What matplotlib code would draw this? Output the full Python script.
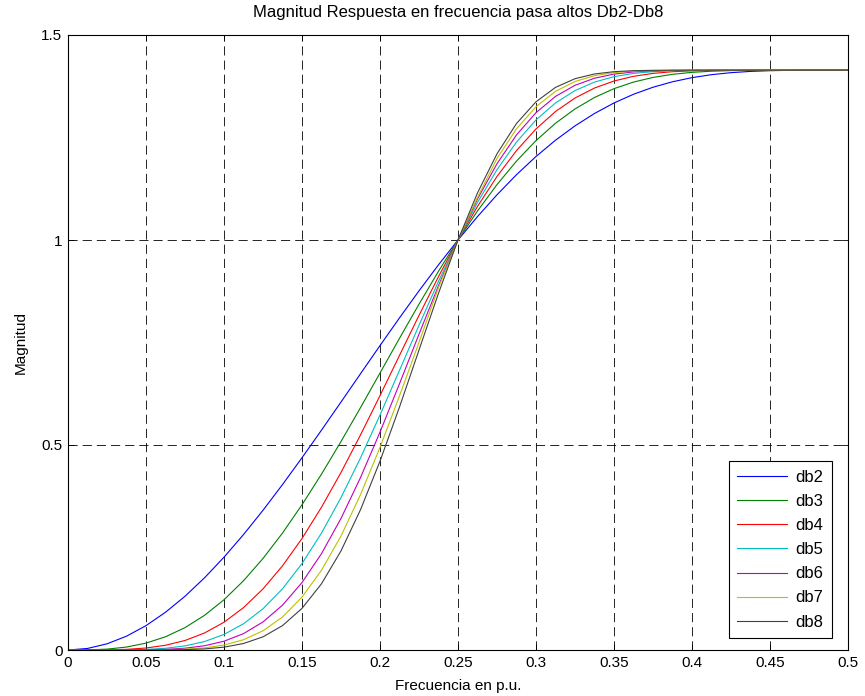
import matplotlib
matplotlib.use('Agg')
import matplotlib.pyplot as plt

# --- fonts ---
plt.rcParams['font.family'] = ['Liberation Sans', 'DejaVu Sans']

freq = [0.0, 0.0125, 0.025, 0.0375, 0.05, 0.0625, 0.075, 0.0875, 0.1, 0.1125,
        0.125, 0.1375, 0.15, 0.1625, 0.175, 0.1875, 0.2, 0.2125, 0.225, 0.2375,
        0.25, 0.2625, 0.275, 0.2875, 0.3, 0.3125, 0.325, 0.3375, 0.35, 0.3625,
        0.375, 0.3875, 0.4, 0.4125, 0.425, 0.4375, 0.45, 0.4625, 0.475, 0.4875, 0.5]

db2 = [0.0, 0.00377, 0.01505, 0.03368, 0.05945, 0.09204, 0.13104, 0.17599, 0.22634, 0.28148,
       0.34076, 0.40347, 0.46889, 0.53626, 0.60481, 0.67379, 0.74245, 0.81006, 0.87594, 0.93944,
       1.0, 1.05709, 1.11028, 1.15923, 1.20365, 1.24339, 1.27836, 1.30860, 1.33422, 1.35544,
       1.37255, 1.38592, 1.39598, 1.40322, 1.40813, 1.41121, 1.41296, 1.41381, 1.41414, 1.41421, 1.41421]
db3 = [0.0, 0.00027, 0.00215, 0.00719, 0.01681, 0.03226, 0.05457, 0.08451, 0.12254, 0.16883,
       0.22322, 0.28525, 0.35417, 0.42897, 0.50843, 0.59114, 0.67559, 0.76022, 0.84347, 0.92385,
       1.0, 1.07075, 1.13515, 1.19250, 1.24241, 1.28474, 1.31966, 1.34758, 1.36915, 1.38515,
       1.39649, 1.40410, 1.40890, 1.41169, 1.41316, 1.41385, 1.41411, 1.41419, 1.41421, 1.41421, 1.41421]
db4 = [0.0, 0.00002, 0.00032, 0.00157, 0.00486, 0.01157, 0.02324, 0.04147, 0.06775, 0.10330,
       0.14901, 0.20526, 0.27191, 0.34825, 0.43303, 0.52448, 0.62046, 0.71852, 0.81612, 0.91073,
       1.0, 1.08193, 1.15497, 1.21809, 1.27084, 1.31337, 1.34629, 1.37067, 1.38783, 1.39924,
       1.40634, 1.41044, 1.41259, 1.41361, 1.41402, 1.41417, 1.41420, 1.41421, 1.41421, 1.41421, 1.41421]
db5 = [0.0, 0.0, 0.00005, 0.00035, 0.00143, 0.00421, 0.01003, 0.02062, 0.03792, 0.06396,
       0.10060, 0.14927, 0.21081, 0.28525, 0.37175, 0.46855, 0.57307, 0.68209, 0.79203, 0.89916,
       1.0, 1.09156, 1.17161, 1.23885, 1.29290, 1.33434, 1.36448, 1.38514, 1.39842, 1.40631,
       1.41064, 1.41277, 1.41370, 1.41406, 1.41418, 1.41421, 1.41421, 1.41421, 1.41421, 1.41421, 1.41421]
db6 = [0.0, 0.0, 0.00001, 0.00008, 0.00042, 0.00154, 0.00437, 0.01033, 0.02140, 0.03992,
       0.06842, 0.10932, 0.16452, 0.23507, 0.32088, 0.42056, 0.53138, 0.64949, 0.77027, 0.88870,
       1.0, 1.10010, 1.18604, 1.25625, 1.31058, 1.35023, 1.37733, 1.39454, 1.40461, 1.40998,
       1.41256, 1.41365, 1.41405, 1.41417, 1.41421, 1.41421, 1.41421, 1.41421, 1.41421, 1.41421, 1.41421]
db7 = [0.0, 0.0, 0.0, 0.00002, 0.00013, 0.00057, 0.00191, 0.00521, 0.01215, 0.02505,
       0.04679, 0.08047, 0.12901, 0.19457, 0.27808, 0.37879, 0.49416, 0.61985, 0.75026, 0.88405,
       1.0, 1.10384, 1.19880, 1.27113, 1.32507, 1.36254, 1.38661, 1.40077, 1.40832, 1.41192,
       1.41344, 1.41399, 1.41416, 1.41420, 1.41421, 1.41421, 1.41421, 1.41421, 1.41421, 1.41421, 1.41421]
db8 = [0.0, 0.0, 0.0, 0.0, 0.00003, 0.00021, 0.00084, 0.00264, 0.00692, 0.01579,
       0.03213, 0.05947, 0.10153, 0.16158, 0.24171, 0.34209, 0.46057, 0.59261, 0.73167, 0.87005,
       1.0, 1.11490, 1.21023, 1.28406, 1.33712, 1.37222, 1.39341, 1.40495, 1.41056, 1.41296,
       1.41385, 1.41413, 1.41420, 1.41421, 1.41421, 1.41421, 1.41421, 1.41421, 1.41421, 1.41421, 1.41421]

series = [db2, db3, db4, db5, db6, db7, db8]
names = ['db2', 'db3', 'db4', 'db5', 'db6', 'db7', 'db8']
colors = [(0, 0, 1), (0, 0.5, 0), (1, 0, 0), (0, 0.75, 0.75),
          (0.75, 0, 0.75), (0.75, 0.75, 0), (0.25, 0.25, 0.25)]

xticks = [0, 0.05, 0.1, 0.15, 0.2, 0.25, 0.3, 0.35, 0.4, 0.45, 0.5]
xticklabels = ['0', '0.05', '0.1', '0.15', '0.2', '0.25', '0.3', '0.35', '0.4', '0.45', '0.5']
yticks = [0, 0.5, 1, 1.5]
yticklabels = ['0', '0.5', '1', '1.5']

tick_fontsize = 11
label_fontsize = 11
title_fontsize = 12
legend_fontsize = 12

# --- figure ---
fig = plt.figure(figsize=(8.65, 6.96), dpi=100)
ax = fig.add_axes([68/865, 1 - 650/696, 780/865, 615/696])

for vals, name, col in zip(series, names, colors):
    ax.plot(freq, vals, color=col, linewidth=0.8, label=name)

ax.set_xlim(0, 0.5)
ax.set_ylim(0, 1.5)
ax.set_xticks(xticks)
ax.set_xticklabels(xticklabels)
ax.set_yticks(yticks)
ax.set_yticklabels(yticklabels)

ax.grid(True, color='black', linestyle=(0, (11, 6)), linewidth=0.6)
ax.tick_params(direction='in', top=True, right=True, length=4, width=0.6,
               labelsize=tick_fontsize, pad=4)
for sp in ax.spines.values():
    sp.set_linewidth(0.8)

ax.set_title('Magnitud Respuesta en frecuencia pasa altos Db2-Db8', fontsize=title_fontsize, pad=13)
ax.set_xlabel('Frecuencia en p.u.', fontsize=label_fontsize, labelpad=7)
ax.set_ylabel('Magnitud', fontsize=label_fontsize, labelpad=10)

leg = ax.legend(loc='lower right', bbox_to_anchor=(764/780, 12/615), borderaxespad=0,
                fontsize=legend_fontsize, frameon=True, fancybox=False, framealpha=1,
                edgecolor='black', handlelength=3.0, labelspacing=0.55, borderpad=0.5,
                handletextpad=0.5)
leg.get_frame().set_linewidth(0.8)

plt.savefig('out.png', dpi=100)
